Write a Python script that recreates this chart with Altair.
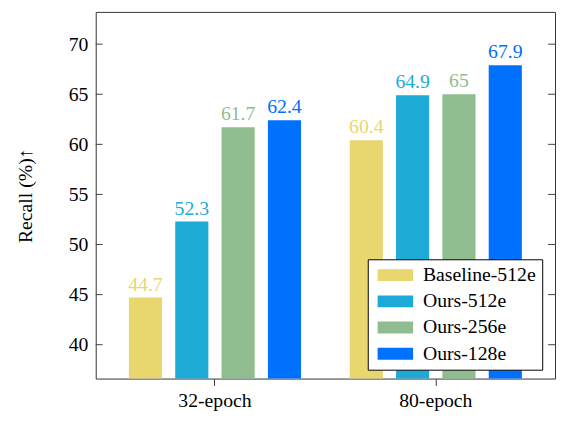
import altair as alt
import pandas as pd

groups = ["32-epoch", "80-epoch"]
methods = ["Baseline-512e", "Ours-512e", "Ours-256e", "Ours-128e"]
colors = ["#E8D66E", "#1DAAD7", "#8FBD8F", "#0070FF"]
recall_32 = [44.7, 52.3, 61.7, 62.4]
recall_80 = [60.4, 64.9, 65.0, 67.9]
y_ticks = [40, 45, 50, 55, 60, 65, 70]

rows = []
for g, vals in zip(groups, [recall_32, recall_80]):
    for m, v in zip(methods, vals):
        rows.append({"epoch": g, "method": m, "recall": v, "label": f"{v:g}"})
df = pd.DataFrame(rows)
ticks_df = pd.DataFrame({"t": y_ticks})

W, H = 466, 372
FONT = "Liberation Serif"
FS = 20
TICK = "#404040"
ydom = [36.62, 73.22]

yscale = alt.Scale(domain=ydom, nice=False, zero=False)
color_scale = alt.Scale(domain=methods, range=colors)

yaxis = alt.Axis(values=y_ticks, title="Recall (%)↑", titleFont=FONT, titleFontSize=FS,
                 titleFontWeight="normal", titleColor="black", titlePadding=33,
                 labelFont=FONT, labelFontSize=FS, labelColor="black", labelPadding=8,
                 ticks=False, tickSize=0, domain=False, grid=False)
xaxis = alt.Axis(title=None, labelAngle=0, ticks=True, tickSize=7, tickColor=TICK,
                 labelPadding=5, domain=False, grid=False, labelFontSize=FS,
                 labelFont=FONT, labelColor="black")

# wide rectangular swatch: scale = sqrt(144)/2 = 6 px per unit -> 36 x 12 px
legend = alt.Legend(title=None, orient="none", legendX=276, legendY=251,
                    symbolType="M-1,-1H5V1H-1Z", symbolSize=144,
                    symbolStrokeWidth=0, symbolOpacity=1, labelFontSize=FS,
                    labelFont=FONT, labelColor="black", padding=6, rowPadding=6.6,
                    labelOffset=30, strokeColor="black", fillColor="white",
                    cornerRadius=0)

x = alt.X("epoch:N", sort=groups, scale=alt.Scale(paddingInner=0.1, paddingOuter=0.09), axis=xaxis)
xo = alt.XOffset("method:N", sort=methods, scale=alt.Scale(paddingInner=0.285, paddingOuter=0.287))
col = alt.Color("method:N", sort=methods, scale=color_scale, legend=legend)

bars = alt.Chart(df).mark_bar(clip=True).encode(
    x=x, xOffset=xo,
    y=alt.Y("recall:Q", scale=yscale, axis=yaxis),
    color=col,
)

labels = alt.Chart(df).mark_text(baseline="alphabetic", dy=-7, fontSize=FS, font=FONT).encode(
    x=x, xOffset=xo,
    y=alt.Y("recall:Q", scale=yscale, axis=yaxis),
    text="label:N",
    color=col,
)

left_ticks = alt.Chart(ticks_df).mark_rule(color=TICK, strokeWidth=1).encode(
    y=alt.Y("t:Q", scale=yscale, axis=yaxis), x=alt.value(0), x2=alt.value(7)
)
right_ticks = alt.Chart(ticks_df).mark_rule(color=TICK, strokeWidth=1).encode(
    y=alt.Y("t:Q", scale=yscale, axis=yaxis), x=alt.value(W - 7), x2=alt.value(W)
)

chart = alt.layer(bars, labels, left_ticks, right_ticks).properties(
    width=W, height=H, autosize="none",
    padding={"left": 89, "top": 1, "right": 2, "bottom": 34},
).configure(background="white").configure_view(stroke="#333333", strokeWidth=1)

chart.save("out.html", embed_options={"renderer": "svg", "actions": False})
